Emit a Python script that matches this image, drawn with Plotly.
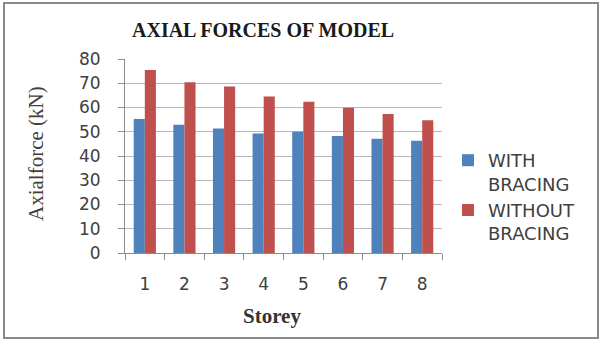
import plotly.graph_objects as go

# Axial force per storey (kN)
storeys = ["1", "2", "3", "4", "5", "6", "7", "8"]
with_bracing = [55.3, 52.9, 51.3, 49.3, 50.0, 48.2, 47.1, 46.3]
without_bracing = [75.5, 70.4, 68.7, 64.5, 62.4, 59.9, 57.3, 54.7]
series_names = ["WITH<br>BRACING", "WITHOUT<br>BRACING"]
y_ticks = [0, 10, 20, 30, 40, 50, 60, 70, 80]

BLUE = "#4F81BD"
RED = "#C0504D"
TICK_FONT = dict(family="DejaVu Sans", size=17, color="#404040")

# plot-area geometry (px) inside a 600x340 page
L, R, T, B = 125, 158, 59, 87
W, H = 600 - L - R, 340 - T - B


def px_x(v):
    return (v - L) / W


def px_y(v):
    return (340 - B - v) / H


fig = go.Figure()
fig.add_trace(go.Bar(x=storeys, y=with_bracing, name=series_names[0],
                     marker=dict(color=BLUE, line=dict(width=0))))
fig.add_trace(go.Bar(x=storeys, y=without_bracing, name=series_names[1],
                     marker=dict(color=RED, line=dict(width=0))))

fig.update_layout(
    width=600, height=340,
    margin=dict(l=L, r=R, t=T, b=B),
    paper_bgcolor="white", plot_bgcolor="white",
    barmode="group", bargap=0.44, bargroupgap=0,
    showlegend=True,
    legend=dict(x=px_x(448), y=px_y(142), xanchor="left", yanchor="top",
                font=dict(family="DejaVu Sans", size=18, color="#404040"),
                valign="top", tracegroupgap=12, itemwidth=30,
                bgcolor="rgba(0,0,0,0)"),
    xaxis=dict(type="category", showgrid=False, showline=True,
               linecolor="#8c8c8c", linewidth=1,
               ticks="outside", tickson="boundaries", ticklen=6,
               tickcolor="#8c8c8c", tickfont=TICK_FONT,
               ticklabelstandoff=16),
    yaxis=dict(range=[0, 80], tickvals=y_ticks, showgrid=True,
               gridcolor="#b8b8b8", gridwidth=1.2, showline=True,
               linecolor="#8c8c8c", linewidth=1, ticks="outside",
               ticklen=6, tickcolor="#8c8c8c", tickfont=TICK_FONT,
               ticklabelstandoff=14, zeroline=False),
    shapes=[dict(type="rect", xref="paper", yref="paper",
                 x0=px_x(4), x1=px_x(598), y0=px_y(338), y1=px_y(3),
                 line=dict(color="#8a8a8a", width=2), layer="below")],
    annotations=[
        dict(text="<b>AXIAL FORCES OF MODEL</b>", xref="paper", yref="paper",
             x=px_x(263), y=px_y(30), showarrow=False,
             xanchor="center", yanchor="middle",
             font=dict(family="Liberation Serif", size=20, color="#1a1a1a")),
        dict(text="Axialforce (kN)", xref="paper", yref="paper",
             x=px_x(36), y=px_y(154), showarrow=False, textangle=-90,
             xanchor="center", yanchor="middle",
             font=dict(family="Liberation Serif", size=21, color="#404040")),
        dict(text="<b>Storey</b>", xref="paper", yref="paper",
             x=px_x(272), y=px_y(316), showarrow=False,
             xanchor="center", yanchor="middle",
             font=dict(family="Liberation Serif", size=21, color="#333333")),
    ],
)

fig.write_html("out.html")
